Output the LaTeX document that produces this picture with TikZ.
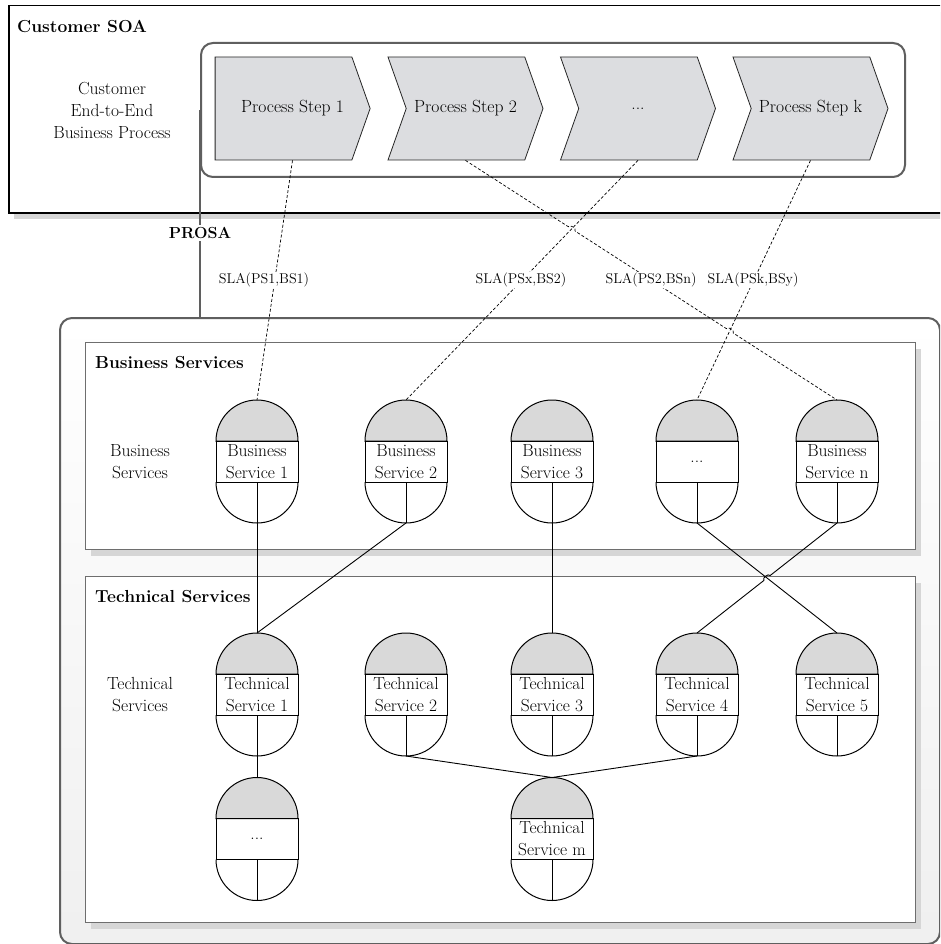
\documentclass[tikz,border=0pt]{standalone}
\usepackage{fontspec}
\usepackage{tikz}
\usetikzlibrary{shapes.symbols,shadows,calc}
\definecolor{stepfill}{RGB}{220,221,224}
\definecolor{svcfill}{RGB}{217,217,217}
\definecolor{framegray}{RGB}{95,95,95}
\definecolor{boxgray}{RGB}{110,110,110}
\definecolor{shadegray}{RGB}{214,214,214}
\tikzset{
  soa box/.style={
    draw=black,
    line width=1.5pt,
    fill=white,
    inner sep=0pt,
    drop shadow={shadow xshift=5pt, shadow yshift=-6pt, fill=shadegray, opacity=1}
  },
  layer box/.style={
    draw=boxgray,
    line width=1.2pt,
    fill=white,
    inner sep=0pt,
    drop shadow={shadow xshift=5pt, shadow yshift=-6pt, fill=shadegray, opacity=1}
  },
  frame/.style={
    draw=framegray,
    line width=2pt,
    rounded corners=12pt,
    inner sep=0pt
  },
  proc step/.style={
    signal,
    signal to=east,
    signal from=west,
    signal pointer angle=141,
    draw=black!85,
    line width=0.8pt,
    fill=stepfill,
    minimum width=155pt,
    minimum height=103pt,
    inner sep=0pt,
    font=\fontsize{17.6}{21}\selectfont
  },
  first step/.style={proc step, signal from=nowhere},
  sla/.style={draw, line width=0.7pt, dash pattern=on 3pt off 2pt},
  sla label/.style={fill=white, inner sep=1pt, font=\fontsize{14.2}{17}\selectfont},
  link/.style={draw, line width=0.9pt},
  head/.style={anchor=west, inner sep=0pt, font=\fontsize{17.4}{20}\selectfont\bfseries},
  side/.style={align=center, inner sep=0pt, font=\fontsize{17.5}{22}\selectfont},
  svc line/.style={draw=black, line width=1pt},
  svc text/.style={align=center, inner sep=0pt, font=\fontsize{17.4}{22}\selectfont},
  service/.pic={
    \draw[svc line, fill=svcfill] (-41,-20.5) arc[start angle=180, end angle=0, radius=41pt] -- cycle;
    \draw[svc line] (-41,-20.5) rectangle (41,20.5);
    \draw[svc line] (-41,20.5) arc[start angle=180, end angle=360, radius=41pt];
    \draw[svc line] (0,20.5) -- (0,61.5);
    \node[svc text] (-t) at (0,0) {#1};
    \coordinate (-n) at (0,-61.5);
    \coordinate (-s) at (0,61.5);
  }
}

\begin{document}
\begin{tikzpicture}[x=1pt, y=-1pt]
  \useasboundingbox (0,0) rectangle (940,944);
  \clip (0,0) rectangle (940,944);

  % Customer SOA
  \node[soa box, anchor=north west, minimum width=960pt, minimum height=207pt] (soa) at (8,5) {};
  \node[head, font=\fontsize{17.4}{20}\selectfont\bfseries] (soatitle) at (17,27) {Customer SOA};
  \node[side] (e2e) at (112,110) {Customer\\End-to-End\\Business Process};

  % process steps
  \node[frame, anchor=north west, minimum width=704pt, minimum height=134pt] (proc) at (200,42) {};
  \node[first step] (ps1) at (283.5,108.5) {\hspace*{18pt}Process Step 1};
  \node[proc step] (ps2) at (465.5,108.5) {Process Step 2};
  \node[proc step] (ps3) at (638,108.5) {...};
  \node[proc step] (ps4) at (810.5,108.5) {Process Step k};
  \coordinate (ps1s) at ($(ps1.south)+(9,0)$);

  % PROSA platform
  \node[frame, anchor=north west, minimum width=880pt, minimum height=626pt,
    top color=white, bottom color=black!6] (prosa) at (59,317) {};
  \draw[framegray, line width=2pt] (proc.west) -- (proc.west |- prosa.north);
  \node[fill=white, inner sep=2pt, font=\fontsize{16}{18}\selectfont\bfseries] (prosalabel) at (200,233) {PROSA};

  % Business Services
  \node[layer box, anchor=north west, minimum width=830pt, minimum height=207pt] (busbox) at (85,342) {};
  \node[head] (bustitle) at (95,363) {Business Services};
  \node[side] (busside) at (140,461.5) {Business\\Services};
  \pic (bs1) at (257,461.5) {service={Business\\Service 1}};
  \pic (bs2) at (406,461.5) {service={Business\\Service 2}};
  \pic (bs3) at (552,461.5) {service={Business\\Service 3}};
  \pic (bsd) at (697,461.5) {service={...}};
  \pic (bsn) at (837,461.5) {service={Business\\Service n}};

  % Technical Services
  \node[layer box, anchor=north west, minimum width=830pt, minimum height=346pt] (techbox) at (85,576) {};
  \node[head] (techtitle) at (95,597) {Technical Services};
  \node[side] (techside) at (140,694.5) {Technical\\Services};
  \pic (ts1) at (257,694.5) {service={Technical\\Service 1}};
  \pic (ts2) at (406,694.5) {service={Technical\\Service 2}};
  \pic (ts3) at (552,694.5) {service={Technical\\Service 3}};
  \pic (ts4) at (697,694.5) {service={Technical\\Service 4}};
  \pic (ts5) at (837,694.5) {service={Technical\\Service 5}};
  \pic (tsd) at (257,839) {service={...}};
  \pic (tsm) at (552,839) {service={Technical\\Service m}};

  % links
  \draw[link] (bs1-s) -- (ts1-n);
  \draw[link] (bs2-s) -- (ts1-n);
  \draw[link] (bs3-s) -- (ts3-n);
  \draw[link] (bsd-s) -- (ts5-n);
  \coordinate (x0) at (intersection of bsd-s--ts5-n and bsn-s--ts4-n);
  \draw[link] (bsn-s) -- ($(x0)!4pt!(bsn-s)$) to[bend right=90] ($(x0)!4pt!(ts4-n)$) -- (ts4-n);
  \draw[link] (ts1-s) -- (tsd-n);
  \draw[link] (ts2-s) -- (tsm-n);
  \draw[link] (ts4-s) -- (tsm-n);

  % SLAs
  \draw[sla] (ps1s) -- (bs1-n);
  \draw[sla] (ps3.south) -- (bs2-n);
  \draw[sla] (ps4.south) -- (bsd-n);
  \coordinate (x1) at (intersection of ps2.south--bsn-n and ps3.south--bs2-n);
  \coordinate (x2) at (intersection of ps2.south--bsn-n and ps4.south--bsd-n);
  \draw[sla] (ps2.south) -- ($(x1)!4pt!(ps2.south)$) to[bend left=90] ($(x1)!4pt!(bsn-n)$)
    -- ($(x2)!4pt!(ps2.south)$) to[bend left=90] ($(x2)!4pt!(bsn-n)$) -- (bsn-n);
  \node[sla label] (sla1) at (264,280) {SLA(PS1,BS1)};
  \node[sla label] (sla2) at (521,280) {SLA(PSx,BS2)};
  \node[sla label] (sla3) at (651,280) {SLA(PS2,BSn)};
  \node[sla label] (sla4) at (753,280) {SLA(PSk,BSy)};

\end{tikzpicture}
\end{document}
